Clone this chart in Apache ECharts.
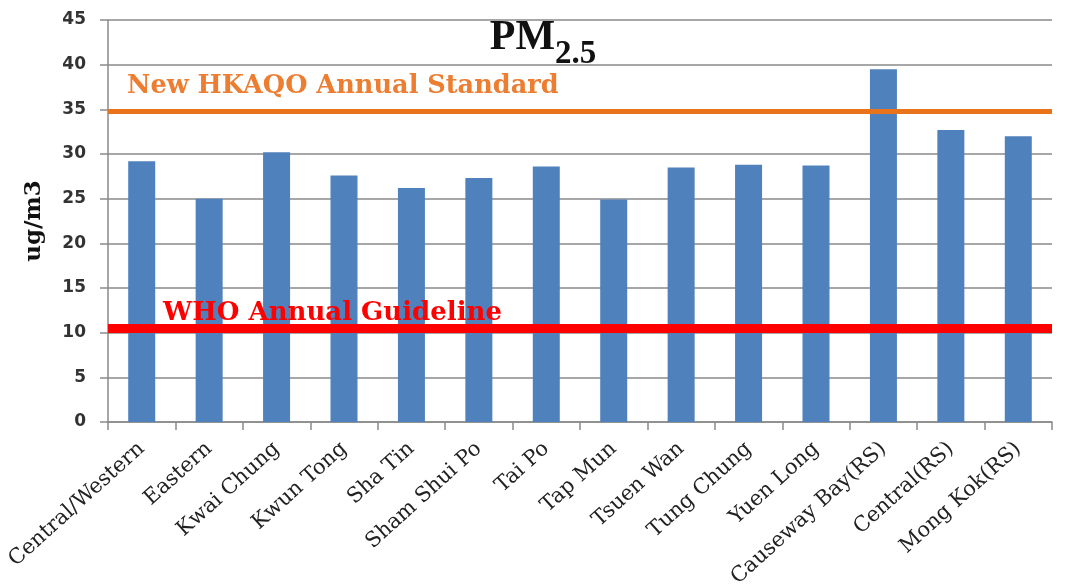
<!DOCTYPE html>
<html><head><meta charset="utf-8">
<script src="https://cdn.jsdelivr.net/npm/echarts@6/dist/echarts.min.js"></script>
<style>html,body{margin:0;padding:0;background:#fff}#c{width:1068px;height:586px}</style>
</head><body><div id="c"></div>
<script>
const categories = ['Central/Western','Eastern','Kwai Chung','Kwun Tong','Sha Tin','Sham Shui Po','Tai Po','Tap Mun','Tsuen Wan','Tung Chung','Yuen Long','Causeway Bay(RS)','Central(RS)','Mong Kok(RS)'];
const pm25 = [29.2, 25.0, 30.2, 27.6, 26.2, 27.3, 28.6, 24.9, 28.5, 28.8, 28.7, 39.5, 32.7, 32.0];
const hkaqoStandard = 34.8;
const whoGuideline = 10.55;
const yTicks = {min: 0, max: 45, interval: 5};

const chart = echarts.init(document.getElementById('c'));
chart.setOption({
  animation: false,
  title: {
    text: '{a|PM}{b|2.5}',
    left: 538, top: 12, textAlign: 'center',
    textStyle: {
      rich: {
        a: {fontFamily: 'Liberation Serif', fontWeight: 'bold', fontSize: 42, color: '#111', verticalAlign: 'bottom', padding: [0, 0, 12, 0]},
        b: {fontFamily: 'Liberation Serif', fontWeight: 'bold', fontSize: 33, color: '#111', verticalAlign: 'bottom'}
      }
    }
  },
  grid: {left: 108, right: 16, top: 20, bottom: 164, containLabel: false, outerBoundsMode: 'none'},
  xAxis: {
    type: 'category', data: categories,
    axisLine: {lineStyle: {color: '#8a8a8a', width: 1.5}},
    axisTick: {show: true, length: 8, lineStyle: {color: '#8a8a8a', width: 1.5}},
    axisLabel: {rotate: 42, margin: 24, fontFamily: 'DejaVu Serif', fontSize: 21, color: '#222', interval: 0}
  },
  yAxis: {
    type: 'value', min: yTicks.min, max: yTicks.max, interval: yTicks.interval,
    name: 'ug/m3', nameLocation: 'middle', nameGap: 62,
    nameTextStyle: {fontFamily: 'DejaVu Serif', fontWeight: 'bold', fontSize: 23, color: '#111'},
    axisLine: {show: true, lineStyle: {color: '#8a8a8a', width: 1.5}},
    axisTick: {show: true, length: 8, lineStyle: {color: '#8a8a8a', width: 1.5}},
    axisLabel: {fontFamily: 'DejaVu Sans', fontWeight: 'bold', fontSize: 17, color: '#333', margin: 22},
    splitLine: {lineStyle: {color: '#8a8a8a', width: 1.5}}
  },
  series: [{
    type: 'bar', data: pm25, barWidth: 27,
    itemStyle: {color: '#4F81BD'},
    markLine: {
      symbol: 'none', silent: true,
      data: [
        {yAxis: hkaqoStandard, lineStyle: {color: '#E8731A', width: 5, type: 'solid'},
         label: {show: true, position: 'insideStartTop', formatter: 'New HKAQO Annual Standard', distance: [19, 12],
                 fontFamily: 'DejaVu Serif', fontWeight: 'bold', fontSize: 25.6, color: '#EC7D31'}},
        {yAxis: whoGuideline, lineStyle: {color: '#FF0000', width: 9, type: 'solid'},
         label: {show: true, position: 'insideStartTop', formatter: 'WHO Annual Guideline', distance: [55, 2],
                 fontFamily: 'DejaVu Serif', fontWeight: 'bold', fontSize: 26, color: '#FF0000'}}
      ]
    }
  }]
});
</script></body></html>
